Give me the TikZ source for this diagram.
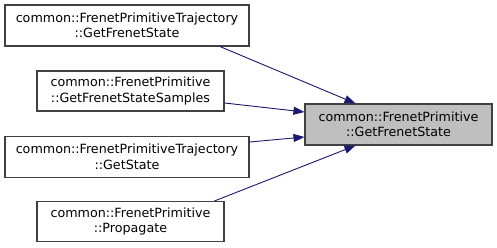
\documentclass[tikz,border=0pt]{standalone}
\usepackage{fontspec}
\setmainfont{DejaVu Sans}
\usetikzlibrary{arrows.meta,calc}
\begin{document}
\begin{tikzpicture}[x=1pt,y=-1pt,
  fn/.style={draw=black!75, line width=1.1pt, fill=white, align=center,
    inner sep=0pt, font=\fontsize{12.7}{15.5}\selectfont},
  wide/.style={fn, minimum width=244pt, minimum height=41pt},
  narrow/.style={fn, minimum width=187pt, minimum height=40pt},
  focus/.style={narrow, fill=black!25, minimum height=41pt},
  call/.style={draw={rgb,255:red,25;green,25;blue,112}, line width=0.9pt,
    -{Triangle[length=11pt,width=8pt]}}]
\useasboundingbox (0,0) rectangle (497,248);

\node[wide]   (n1) at (127,25.5)   {common::FrenetPrimitiveTrajectory\\::GetFrenetState};
\node[narrow] (n2) at (130.5,91)   {common::FrenetPrimitive\\::GetFrenetStateSamples};
\node[wide]   (n3) at (127,157)    {common::FrenetPrimitiveTrajectory\\::GetState};
\node[narrow] (n4) at (130.5,221.5){common::FrenetPrimitive\\::Propagate};
\node[focus]  (t)  at (398.5,124.5){common::FrenetPrimitive\\::GetFrenetState};

\draw[call] ($(n1.south)+(93,0)$) -- ($(t.north)+(-43,0)$);
\draw[call] ($(n2.east)+(0,12)$) -- ($(t.west)+(0,-12.5)$);
\draw[call] ($(n3.east)+(0,-15)$) -- ($(t.west)+(0,12.5)$);
\draw[call] ($(n4.north)+(84,0)$) -- ($(t.south)+(-43,0)$);
\end{tikzpicture}
\end{document}
